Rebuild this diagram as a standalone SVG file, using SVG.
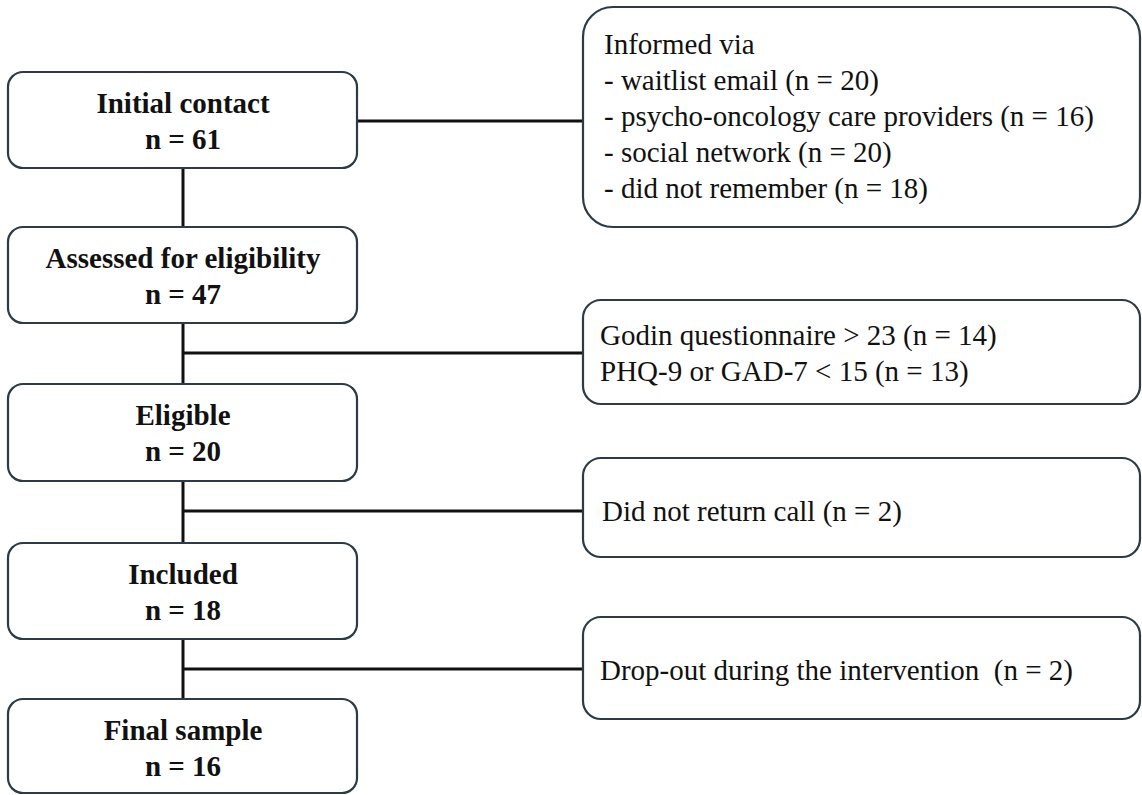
<svg xmlns="http://www.w3.org/2000/svg" width="1142" height="795" viewBox="0 0 1142 795">
<style>
.box{fill:#fff;stroke:#2e3b44;stroke-width:2.2}
.con{stroke:#111;stroke-width:3;fill:none}
.b{font-family:"Liberation Serif","Times New Roman",serif;font-weight:bold;font-size:29px;fill:#111;text-anchor:middle}
.r{font-family:"Liberation Serif","Times New Roman",serif;font-size:29px;fill:#111}
</style>
<rect width="1142" height="795" fill="#fff"/>
<g id="connectors">
<line class="con" x1="357" y1="121" x2="583" y2="121"/>
<line class="con" x1="183" y1="168" x2="183" y2="227"/>
<line class="con" x1="183" y1="323" x2="183" y2="384"/>
<line class="con" x1="183" y1="481" x2="183" y2="543"/>
<line class="con" x1="183" y1="639" x2="183" y2="699"/>
<line class="con" x1="183" y1="353" x2="583" y2="353"/>
<line class="con" x1="183" y1="511" x2="583" y2="511"/>
<line class="con" x1="183" y1="669" x2="583" y2="669"/>
</g>
<g id="initial">
<rect class="box" x="8" y="72" width="349" height="96" rx="15"/>
<text class="b" x="183" y="113">Initial contact</text>
<text class="b" x="183" y="149">n = 61</text>
</g>
<g id="assessed">
<rect class="box" x="8" y="227" width="349" height="96" rx="15"/>
<text class="b" x="183" y="268">Assessed for eligibility</text>
<text class="b" x="183" y="304">n = 47</text>
</g>
<g id="eligible">
<rect class="box" x="8" y="384" width="349" height="97" rx="15"/>
<text class="b" x="183" y="425">Eligible</text>
<text class="b" x="183" y="461">n = 20</text>
</g>
<g id="included">
<rect class="box" x="8" y="543" width="349" height="96" rx="15"/>
<text class="b" x="183" y="584">Included</text>
<text class="b" x="183" y="620">n = 18</text>
</g>
<g id="final">
<rect class="box" x="8" y="699" width="349" height="94" rx="15"/>
<text class="b" x="183" y="740">Final sample</text>
<text class="b" x="183" y="776">n = 16</text>
</g>
<g id="informed">
<rect class="box" x="583" y="7" width="557" height="220" rx="30"/>
<text class="r" x="604" y="54">Informed via</text>
<text class="r" x="604" y="90">- waitlist email (n = 20)</text>
<text class="r" x="604" y="126">- psycho-oncology care providers (n = 16)</text>
<text class="r" x="604" y="162">- social network (n = 20)</text>
<text class="r" x="604" y="198">- did not remember (n = 18)</text>
</g>
<g id="excluded">
<rect class="box" x="583" y="300" width="557" height="104" rx="18"/>
<text class="r" x="600" y="345">Godin questionnaire &gt; 23 (n = 14)</text>
<text class="r" x="600" y="381">PHQ-9 or GAD-7 &lt; 15 (n = 13)</text>
</g>
<g id="noreturn">
<rect class="box" x="583" y="458" width="557" height="99" rx="18"/>
<text class="r" x="602" y="521">Did not return call (n = 2)</text>
</g>
<g id="dropout">
<rect class="box" x="583" y="617" width="557" height="102" rx="18"/>
<text class="r" x="600" y="680" xml:space="preserve">Drop-out during the intervention  (n = 2)</text>
</g>
</svg>
